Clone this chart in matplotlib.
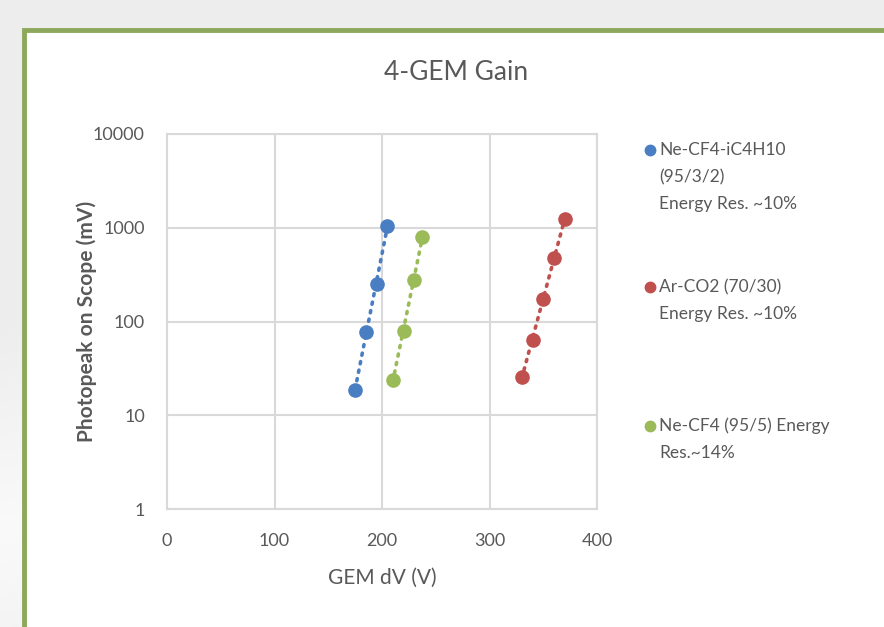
import matplotlib
matplotlib.use("Agg")
import matplotlib.pyplot as plt
from matplotlib.patches import Rectangle
import numpy as np

plt.rcParams['font.family'] = ['Lato', 'Open Sans', 'DejaVu Sans']

# GEM voltage (V) vs photopeak amplitude (mV)
ne_cf4_ic4h10_x = [175, 185, 195, 205]
ne_cf4_ic4h10_y = [18.5, 77, 250, 1050]
ar_co2_x = [330, 340, 350, 360, 370]
ar_co2_y = [25.5, 63, 175, 480, 1240]
ne_cf4_x = [210, 220, 230, 237]
ne_cf4_y = [24, 79, 275, 790]

series = [
    (ne_cf4_ic4h10_x, ne_cf4_ic4h10_y, '#4A7EC2', ['Ne-CF4-iC4H10', '(95/3/2)', 'Energy Res. ~10%']),
    (ar_co2_x, ar_co2_y, '#C0504D', ['Ar-CO2 (70/30)', 'Energy Res. ~10%']),
    (ne_cf4_x, ne_cf4_y, '#9BBB59', ['Ne-CF4 (95/5) Energy', 'Res.~14%']),
]

W, H = 884, 627
fig = plt.figure(figsize=(W / 100, H / 100), dpi=100)
fig.patch.set_facecolor('#EFEFEF')

# soft slide background
bg = fig.add_axes([0, 0, 1, 1], zorder=-10)
gx, gy = np.meshgrid(np.linspace(0, 1, 200), np.linspace(0, 1, 200))
shade = 0.93 + 0.05 * np.clip(1 - np.abs(gy - 0.85 + 0.3 * gx) * 3, 0, 1)
bg.imshow(np.dstack([shade] * 3), extent=[0, 1, 0, 1], aspect='auto')
bg.axis('off')

# white panel with green frame
panel = Rectangle((24 / W, -0.1), 1.0, 1 - 30 / H + 0.1, transform=fig.transFigure,
                  facecolor='white', edgecolor='#8DA85B', linewidth=3.5, zorder=-5)
fig.patches.append(panel)

ax = fig.add_axes([167 / W, 1 - 509 / H, (597 - 167) / W, (509 - 134) / H])
ax.set_yscale('log')
ax.set_xlim(0, 400)
ax.set_ylim(1, 10000)
ax.set_xticks([0, 100, 200, 300, 400])
ax.set_yticks([1, 10, 100, 1000, 10000])
ax.set_yticklabels(['1', '10', '100', '1000', '10000'])
ax.minorticks_off()
ax.grid(True, color='#D9D9D9', linewidth=1.5)
ax.set_axisbelow(True)
for sp in ax.spines.values():
    sp.set_color('#D9D9D9')
    sp.set_linewidth(1.5)
ax.tick_params(length=0, colors='#595959', labelsize=13)
ax.tick_params(axis='x', pad=17)
ax.tick_params(axis='y', pad=16)

for xs, ys, color, label in series:
    # exponential trend line
    k, b = np.polyfit(xs, np.log10(ys), 1)
    tx = np.linspace(min(xs), max(xs), 50)
    ax.plot(tx, 10 ** (k * tx + b), color=color, linestyle=(0, (0.6, 1.8)),
            linewidth=2.6, dash_capstyle='round', zorder=2)
    ax.plot(xs, ys, 'o', color=color, markersize=9.5, zorder=3, clip_on=False)

ax.set_xlabel('GEM dV (V)', color='#595959', fontsize=15, labelpad=14)
ax.set_ylabel('Photopeak on Scope (mV)', color='#595959', fontsize=15,
              fontweight='bold')
ax.yaxis.set_label_coords((97 - 167) / 430, 0.5)
fig.text(456 / W, 1 - 73 / H, '4-GEM Gain', ha='center', va='center',
         color='#595959', fontsize=19)

# legend entries
legend_y = [150, 287, 426]
for (xs, ys, color, label), y0 in zip(series, legend_y):
    fig.lines.append(plt.Line2D([650 / W], [1 - y0 / H], marker='o', color=color,
                                markersize=7.5, transform=fig.transFigure))
    for i, line in enumerate(label):
        fig.text(659 / W, 1 - (y0 + 27 * i) / H, line, ha='left', va='center',
                 color='#595959', fontsize=12.5)

fig.savefig('out.png', dpi=100)
